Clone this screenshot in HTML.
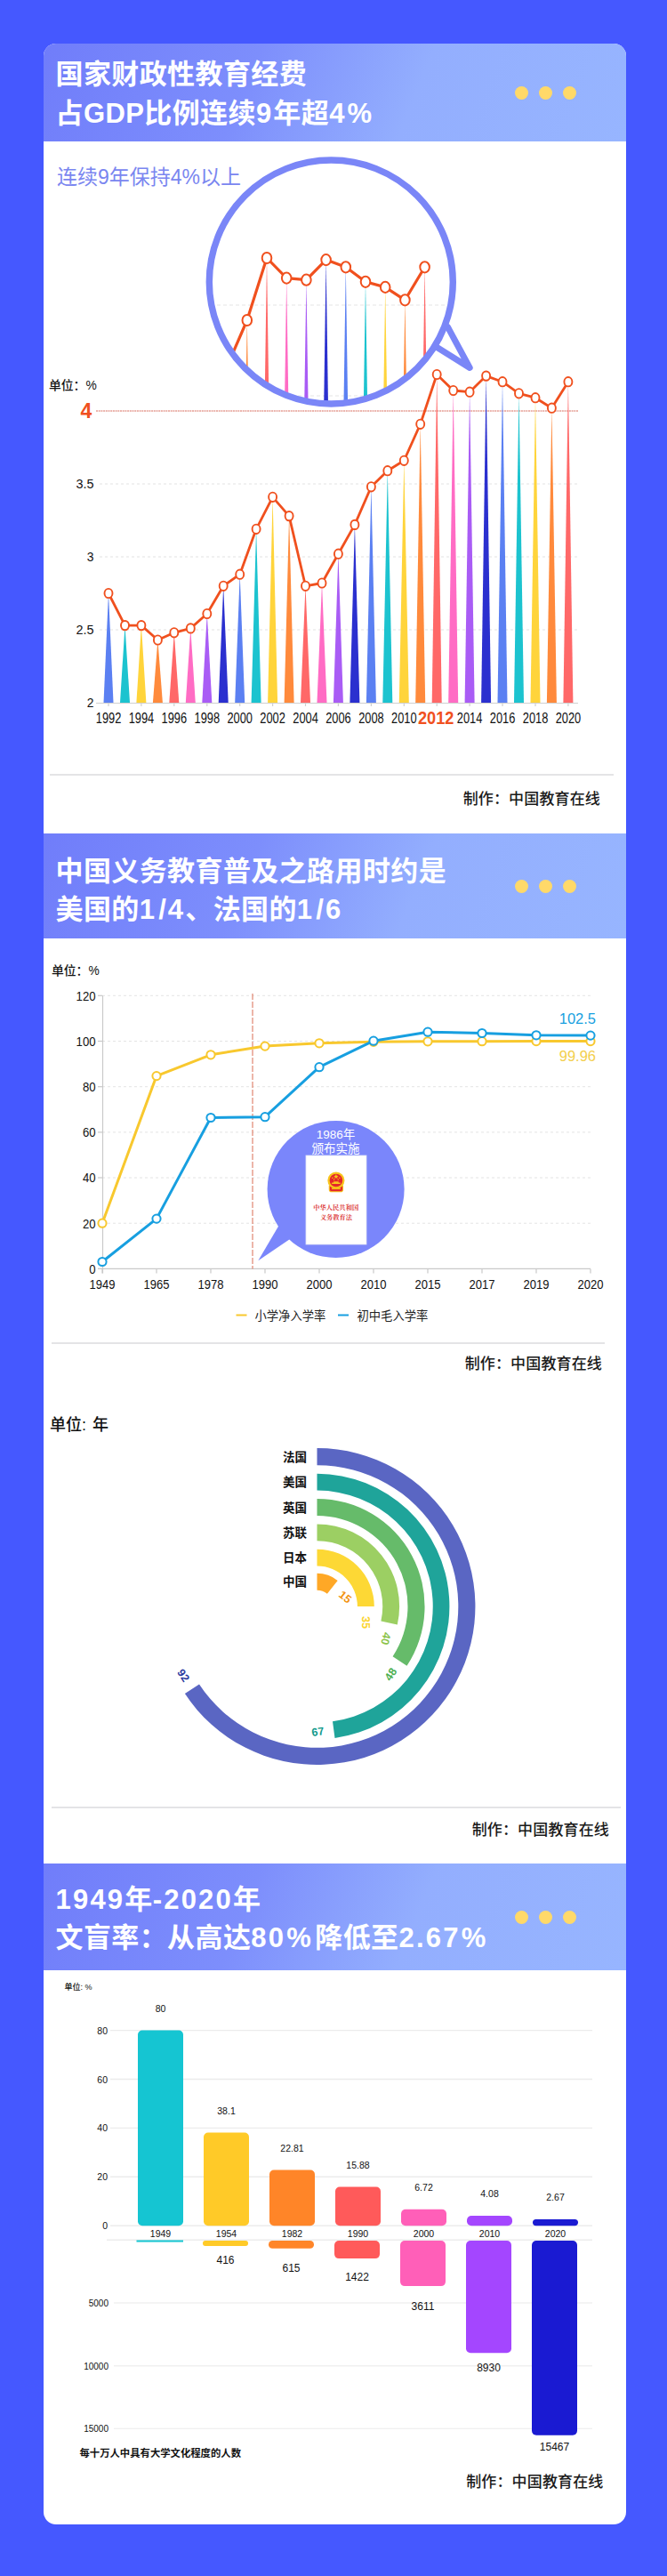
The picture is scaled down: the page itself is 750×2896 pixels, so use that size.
<!DOCTYPE html>
<html lang="zh-CN"><head><meta charset="utf-8"><title>教育数据图</title>
<style>
html,body{margin:0;padding:0}
body{width:750px;height:2896px;background:#4558ff;position:relative;overflow:hidden;font-family:"Liberation Sans","Noto Sans CJK SC",sans-serif;color:#111}
.card{position:absolute;left:48.5px;top:49px;width:655.5px;height:2789px;background:#fff;border-radius:14px;overflow:hidden}
.hd{position:absolute;left:0;width:656px;background:linear-gradient(112deg,#707dfa 0%,#7d8efc 35%,#93aefe 63%,#97b5ff 100%)}
.hd h2{position:absolute;left:14px;margin:0;font-weight:700;color:#fff;font-size:31px;line-height:43.2px;letter-spacing:.4px;white-space:nowrap}
.hd .d{letter-spacing:2.2px}.hd .p{letter-spacing:4.5px;margin-left:1px}.hd .s{letter-spacing:2px;margin-left:2px}
.dots{position:absolute;left:530px;width:70px;height:16px}
.dots i{position:absolute;top:0;width:15px;height:15px;border-radius:50%;background:#ffd969}
.ft{position:absolute;white-space:nowrap;font-size:17px;color:#1a1a1a;letter-spacing:.15px;font-weight:500}
.hr{position:absolute;height:2px;background:#e4e4e6}
svg{position:absolute;left:0;top:0}
svg text{font-family:"Liberation Sans","Noto Sans CJK SC",sans-serif}
.abs{position:absolute;white-space:nowrap}
</style></head><body>

<div class="card">
<div class="hd" style="top:0px;height:110px"><h2 style="top:13.299999999999997px">国家财政性教育经费<br>占GDP比例连续<span class="d">9</span>年超<span class="d">4</span><span class="p">%</span></h2><div class="dots" style="top:48.0px"><i style="left:0"></i><i style="left:27px"></i><i style="left:54px"></i></div></div>
<div class="hd" style="top:888px;height:118px"><h2 style="top:20.5px">中国义务教育普及之路用时约是<br>美国的<span class="d">1</span><span class="s">/</span><span class="d">4</span>、法国的<span class="d">1</span><span class="s">/</span><span class="d">6</span></h2><div class="dots" style="top:52.0px"><i style="left:0"></i><i style="left:27px"></i><i style="left:54px"></i></div></div>
<div class="hd" style="top:2046px;height:120px"><h2 style="top:19px"><span class="d">1949</span>年<span class="d">-2020</span>年<br>文盲率：从高达<span class="d">80</span><span class="p">%</span>降低至<span class="d">2.67</span><span class="p">%</span></h2><div class="dots" style="top:53.0px"><i style="left:0"></i><i style="left:27px"></i><i style="left:54px"></i></div></div>
</div>
<svg width="750" height="2896" viewBox="0 0 750 2896">
<defs><clipPath id="mag"><circle cx="372.3" cy="317" r="137"/></clipPath></defs>
<line x1="112" x2="650" y1="708.0" y2="708.0" stroke="#e2e2e2" stroke-width="1" stroke-dasharray="3 3"/>
<line x1="112" x2="650" y1="626.0" y2="626.0" stroke="#e2e2e2" stroke-width="1" stroke-dasharray="3 3"/>
<line x1="112" x2="650" y1="544.0" y2="544.0" stroke="#e2e2e2" stroke-width="1" stroke-dasharray="3 3"/>
<line x1="108" x2="650" y1="462.0" y2="462.0" stroke="#e59d94" stroke-width="1.3" stroke-dasharray="2 .7"/>
<line x1="108" x2="650" y1="790.5" y2="790.5" stroke="#cfcfcf" stroke-width="1.2"/>
<polygon points="116.5,790.0 127.5,790.0 122.0,667.0" fill="#5b80f2"/>
<polygon points="135.0,790.0 146.0,790.0 140.5,703.1" fill="#1cc3cf"/>
<polygon points="153.4,790.0 164.4,790.0 158.9,703.1" fill="#ffd43b"/>
<polygon points="171.9,790.0 182.9,790.0 177.4,719.5" fill="#ff8a3c"/>
<polygon points="190.3,790.0 201.3,790.0 195.8,711.3" fill="#ff6868"/>
<polygon points="208.8,790.0 219.8,790.0 214.3,706.4" fill="#ff6cc4"/>
<polygon points="227.3,790.0 238.3,790.0 232.8,690.0" fill="#a95cf5"/>
<polygon points="245.7,790.0 256.7,790.0 251.2,658.8" fill="#2b30cf"/>
<polygon points="264.2,790.0 275.2,790.0 269.7,645.7" fill="#5b80f2"/>
<polygon points="282.6,790.0 293.6,790.0 288.1,594.8" fill="#1cc3cf"/>
<polygon points="301.1,790.0 312.1,790.0 306.6,558.8" fill="#ffd43b"/>
<polygon points="319.6,790.0 330.6,790.0 325.1,580.1" fill="#ff8a3c"/>
<polygon points="338.0,790.0 349.0,790.0 343.5,658.8" fill="#ff6868"/>
<polygon points="356.5,790.0 367.5,790.0 362.0,655.5" fill="#ff6cc4"/>
<polygon points="374.9,790.0 385.9,790.0 380.4,622.7" fill="#a95cf5"/>
<polygon points="393.4,790.0 404.4,790.0 398.9,589.9" fill="#2b30cf"/>
<polygon points="411.9,790.0 422.9,790.0 417.4,547.3" fill="#5b80f2"/>
<polygon points="430.3,790.0 441.3,790.0 435.8,529.2" fill="#1cc3cf"/>
<polygon points="448.8,790.0 459.8,790.0 454.3,517.8" fill="#ffd43b"/>
<polygon points="467.2,790.0 478.2,790.0 472.7,476.8" fill="#ff8a3c"/>
<polygon points="485.7,790.0 496.7,790.0 491.2,421.0" fill="#ff6868"/>
<polygon points="504.2,790.0 515.2,790.0 509.7,439.0" fill="#ff6cc4"/>
<polygon points="522.6,790.0 533.6,790.0 528.1,440.7" fill="#a95cf5"/>
<polygon points="541.1,790.0 552.1,790.0 546.6,422.6" fill="#2b30cf"/>
<polygon points="559.5,790.0 570.5,790.0 565.0,429.2" fill="#5b80f2"/>
<polygon points="578.0,790.0 589.0,790.0 583.5,442.3" fill="#1cc3cf"/>
<polygon points="596.5,790.0 607.5,790.0 602.0,447.2" fill="#ffd43b"/>
<polygon points="614.9,790.0 625.9,790.0 620.4,458.7" fill="#ff8a3c"/>
<polygon points="633.4,790.0 644.4,790.0 638.9,429.2" fill="#ff6868"/>
<polyline points="122.0,667.0 140.5,703.1 158.9,703.1 177.4,719.5 195.8,711.3 214.3,706.4 232.8,690.0 251.2,658.8 269.7,645.7 288.1,594.8 306.6,558.8 325.1,580.1 343.5,658.8 362.0,655.5 380.4,622.7 398.9,589.9 417.4,547.3 435.8,529.2 454.3,517.8 472.7,476.8 491.2,421.0 509.7,439.0 528.1,440.7 546.6,422.6 565.0,429.2 583.5,442.3 602.0,447.2 620.4,458.7 638.9,429.2" fill="none" stroke="#f0501e" stroke-width="2.8" stroke-linejoin="round"/>
<ellipse cx="122.0" cy="667.0" rx="4.5" ry="5.17" fill="#fff" stroke="#f0501e" stroke-width="1.9"/>
<ellipse cx="140.5" cy="703.1" rx="4.5" ry="5.17" fill="#fff" stroke="#f0501e" stroke-width="1.9"/>
<ellipse cx="158.9" cy="703.1" rx="4.5" ry="5.17" fill="#fff" stroke="#f0501e" stroke-width="1.9"/>
<ellipse cx="177.4" cy="719.5" rx="4.5" ry="5.17" fill="#fff" stroke="#f0501e" stroke-width="1.9"/>
<ellipse cx="195.8" cy="711.3" rx="4.5" ry="5.17" fill="#fff" stroke="#f0501e" stroke-width="1.9"/>
<ellipse cx="214.3" cy="706.4" rx="4.5" ry="5.17" fill="#fff" stroke="#f0501e" stroke-width="1.9"/>
<ellipse cx="232.8" cy="690.0" rx="4.5" ry="5.17" fill="#fff" stroke="#f0501e" stroke-width="1.9"/>
<ellipse cx="251.2" cy="658.8" rx="4.5" ry="5.17" fill="#fff" stroke="#f0501e" stroke-width="1.9"/>
<ellipse cx="269.7" cy="645.7" rx="4.5" ry="5.17" fill="#fff" stroke="#f0501e" stroke-width="1.9"/>
<ellipse cx="288.1" cy="594.8" rx="4.5" ry="5.17" fill="#fff" stroke="#f0501e" stroke-width="1.9"/>
<ellipse cx="306.6" cy="558.8" rx="4.5" ry="5.17" fill="#fff" stroke="#f0501e" stroke-width="1.9"/>
<ellipse cx="325.1" cy="580.1" rx="4.5" ry="5.17" fill="#fff" stroke="#f0501e" stroke-width="1.9"/>
<ellipse cx="343.5" cy="658.8" rx="4.5" ry="5.17" fill="#fff" stroke="#f0501e" stroke-width="1.9"/>
<ellipse cx="362.0" cy="655.5" rx="4.5" ry="5.17" fill="#fff" stroke="#f0501e" stroke-width="1.9"/>
<ellipse cx="380.4" cy="622.7" rx="4.5" ry="5.17" fill="#fff" stroke="#f0501e" stroke-width="1.9"/>
<ellipse cx="398.9" cy="589.9" rx="4.5" ry="5.17" fill="#fff" stroke="#f0501e" stroke-width="1.9"/>
<ellipse cx="417.4" cy="547.3" rx="4.5" ry="5.17" fill="#fff" stroke="#f0501e" stroke-width="1.9"/>
<ellipse cx="435.8" cy="529.2" rx="4.5" ry="5.17" fill="#fff" stroke="#f0501e" stroke-width="1.9"/>
<ellipse cx="454.3" cy="517.8" rx="4.5" ry="5.17" fill="#fff" stroke="#f0501e" stroke-width="1.9"/>
<ellipse cx="472.7" cy="476.8" rx="4.5" ry="5.17" fill="#fff" stroke="#f0501e" stroke-width="1.9"/>
<ellipse cx="491.2" cy="421.0" rx="4.5" ry="5.17" fill="#fff" stroke="#f0501e" stroke-width="1.9"/>
<ellipse cx="509.7" cy="439.0" rx="4.5" ry="5.17" fill="#fff" stroke="#f0501e" stroke-width="1.9"/>
<ellipse cx="528.1" cy="440.7" rx="4.5" ry="5.17" fill="#fff" stroke="#f0501e" stroke-width="1.9"/>
<ellipse cx="546.6" cy="422.6" rx="4.5" ry="5.17" fill="#fff" stroke="#f0501e" stroke-width="1.9"/>
<ellipse cx="565.0" cy="429.2" rx="4.5" ry="5.17" fill="#fff" stroke="#f0501e" stroke-width="1.9"/>
<ellipse cx="583.5" cy="442.3" rx="4.5" ry="5.17" fill="#fff" stroke="#f0501e" stroke-width="1.9"/>
<ellipse cx="602.0" cy="447.2" rx="4.5" ry="5.17" fill="#fff" stroke="#f0501e" stroke-width="1.9"/>
<ellipse cx="620.4" cy="458.7" rx="4.5" ry="5.17" fill="#fff" stroke="#f0501e" stroke-width="1.9"/>
<ellipse cx="638.9" cy="429.2" rx="4.5" ry="5.17" fill="#fff" stroke="#f0501e" stroke-width="1.9"/>
<text x="105.5" y="549.4" font-size="15.2" text-anchor="end" textLength="20" lengthAdjust="spacingAndGlyphs" fill="#111">3.5</text>
<text x="105.5" y="631.4" font-size="15.2" text-anchor="end" textLength="7.7" lengthAdjust="spacingAndGlyphs" fill="#111">3</text>
<text x="105.5" y="713.4" font-size="15.2" text-anchor="end" textLength="20" lengthAdjust="spacingAndGlyphs" fill="#111">2.5</text>
<text x="105.5" y="795.4" font-size="15.2" text-anchor="end" textLength="7.7" lengthAdjust="spacingAndGlyphs" fill="#111">2</text>
<text x="97" y="470.0" font-size="23" font-weight="700" text-anchor="middle" fill="#f0501e">4</text>
<text x="55" y="438" font-size="13.8" font-weight="500" fill="#111">单位：%</text>
<text x="122.0" y="813" font-size="16" text-anchor="middle" textLength="28.5" lengthAdjust="spacingAndGlyphs" fill="#111">1992</text>
<line x1="122.0" x2="122.0" y1="790.0" y2="794.0" stroke="#cfcfcf" stroke-width="1.2"/>
<text x="158.9" y="813" font-size="16" text-anchor="middle" textLength="28.5" lengthAdjust="spacingAndGlyphs" fill="#111">1994</text>
<line x1="158.9" x2="158.9" y1="790.0" y2="794.0" stroke="#cfcfcf" stroke-width="1.2"/>
<text x="195.8" y="813" font-size="16" text-anchor="middle" textLength="28.5" lengthAdjust="spacingAndGlyphs" fill="#111">1996</text>
<line x1="195.8" x2="195.8" y1="790.0" y2="794.0" stroke="#cfcfcf" stroke-width="1.2"/>
<text x="232.8" y="813" font-size="16" text-anchor="middle" textLength="28.5" lengthAdjust="spacingAndGlyphs" fill="#111">1998</text>
<line x1="232.8" x2="232.8" y1="790.0" y2="794.0" stroke="#cfcfcf" stroke-width="1.2"/>
<text x="269.7" y="813" font-size="16" text-anchor="middle" textLength="28.5" lengthAdjust="spacingAndGlyphs" fill="#111">2000</text>
<line x1="269.7" x2="269.7" y1="790.0" y2="794.0" stroke="#cfcfcf" stroke-width="1.2"/>
<text x="306.6" y="813" font-size="16" text-anchor="middle" textLength="28.5" lengthAdjust="spacingAndGlyphs" fill="#111">2002</text>
<line x1="306.6" x2="306.6" y1="790.0" y2="794.0" stroke="#cfcfcf" stroke-width="1.2"/>
<text x="343.5" y="813" font-size="16" text-anchor="middle" textLength="28.5" lengthAdjust="spacingAndGlyphs" fill="#111">2004</text>
<line x1="343.5" x2="343.5" y1="790.0" y2="794.0" stroke="#cfcfcf" stroke-width="1.2"/>
<text x="380.4" y="813" font-size="16" text-anchor="middle" textLength="28.5" lengthAdjust="spacingAndGlyphs" fill="#111">2006</text>
<line x1="380.4" x2="380.4" y1="790.0" y2="794.0" stroke="#cfcfcf" stroke-width="1.2"/>
<text x="417.4" y="813" font-size="16" text-anchor="middle" textLength="28.5" lengthAdjust="spacingAndGlyphs" fill="#111">2008</text>
<line x1="417.4" x2="417.4" y1="790.0" y2="794.0" stroke="#cfcfcf" stroke-width="1.2"/>
<text x="454.3" y="813" font-size="16" text-anchor="middle" textLength="28.5" lengthAdjust="spacingAndGlyphs" fill="#111">2010</text>
<line x1="454.3" x2="454.3" y1="790.0" y2="794.0" stroke="#cfcfcf" stroke-width="1.2"/>
<text x="490.2" y="814" font-size="20" font-weight="700" text-anchor="middle" textLength="40.5" lengthAdjust="spacingAndGlyphs" fill="#f0501e">2012</text>
<line x1="491.2" x2="491.2" y1="790.0" y2="794.0" stroke="#cfcfcf" stroke-width="1.2"/>
<text x="528.1" y="813" font-size="16" text-anchor="middle" textLength="28.5" lengthAdjust="spacingAndGlyphs" fill="#111">2014</text>
<line x1="528.1" x2="528.1" y1="790.0" y2="794.0" stroke="#cfcfcf" stroke-width="1.2"/>
<text x="565.0" y="813" font-size="16" text-anchor="middle" textLength="28.5" lengthAdjust="spacingAndGlyphs" fill="#111">2016</text>
<line x1="565.0" x2="565.0" y1="790.0" y2="794.0" stroke="#cfcfcf" stroke-width="1.2"/>
<text x="602.0" y="813" font-size="16" text-anchor="middle" textLength="28.5" lengthAdjust="spacingAndGlyphs" fill="#111">2018</text>
<line x1="602.0" x2="602.0" y1="790.0" y2="794.0" stroke="#cfcfcf" stroke-width="1.2"/>
<text x="638.9" y="813" font-size="16" text-anchor="middle" textLength="28.5" lengthAdjust="spacingAndGlyphs" fill="#111">2020</text>
<line x1="638.9" x2="638.9" y1="790.0" y2="794.0" stroke="#cfcfcf" stroke-width="1.2"/>
<path d="M503.5 367.7 L528.2 413.5 L492.2 391" fill="#fff" stroke="#7a86f7" stroke-width="7" stroke-linejoin="round" stroke-linecap="round"/>
<circle cx="372.3" cy="317" r="138" fill="#fff"/>
<g clip-path="url(#mag)">
<line x1="230" x2="520" y1="343" y2="343" stroke="#e6e6e6" stroke-width="1.2" stroke-dasharray="4 3"/>
<line x1="230" x2="520" y1="445" y2="445" stroke="#e6e6e6" stroke-width="1.2" stroke-dasharray="4 3"/>
<polygon points="-150.8,753.1 -137.2,753.1 -144.0,598.7" fill="#5b80f2"/>
<polygon points="-128.6,753.1 -115.0,753.1 -121.8,644.0" fill="#1cc3cf"/>
<polygon points="-106.4,753.1 -92.8,753.1 -99.6,644.0" fill="#ffd43b"/>
<polygon points="-84.2,753.1 -70.6,753.1 -77.4,664.6" fill="#ff8a3c"/>
<polygon points="-62.0,753.1 -48.4,753.1 -55.2,654.3" fill="#ff6868"/>
<polygon points="-39.8,753.1 -26.2,753.1 -33.0,648.1" fill="#ff6cc4"/>
<polygon points="-17.6,753.1 -4.0,753.1 -10.8,627.5" fill="#a95cf5"/>
<polygon points="4.6,753.1 18.2,753.1 11.4,588.4" fill="#2b30cf"/>
<polygon points="26.8,753.1 40.4,753.1 33.6,572.0" fill="#5b80f2"/>
<polygon points="49.0,753.1 62.6,753.1 55.8,508.2" fill="#1cc3cf"/>
<polygon points="71.2,753.1 84.8,753.1 78.0,462.9" fill="#ffd43b"/>
<polygon points="93.4,753.1 107.0,753.1 100.2,489.6" fill="#ff8a3c"/>
<polygon points="115.6,753.1 129.2,753.1 122.4,588.4" fill="#ff6868"/>
<polygon points="137.8,753.1 151.4,753.1 144.6,584.3" fill="#ff6cc4"/>
<polygon points="160.0,753.1 173.6,753.1 166.8,543.2" fill="#a95cf5"/>
<polygon points="182.2,753.1 195.8,753.1 189.0,502.0" fill="#2b30cf"/>
<polygon points="204.4,753.1 218.0,753.1 211.2,448.5" fill="#5b80f2"/>
<polygon points="226.6,753.1 240.2,753.1 233.4,425.8" fill="#1cc3cf"/>
<polygon points="248.8,753.1 262.4,753.1 255.6,411.4" fill="#ffd43b"/>
<polygon points="271.0,753.1 284.6,753.1 277.8,360.0" fill="#ff8a3c"/>
<polygon points="293.2,753.1 306.8,753.1 300.0,290.0" fill="#ff6868"/>
<polygon points="315.4,753.1 329.0,753.1 322.2,312.6" fill="#ff6cc4"/>
<polygon points="337.6,753.1 351.2,753.1 344.4,314.7" fill="#a95cf5"/>
<polygon points="359.8,753.1 373.4,753.1 366.6,292.1" fill="#2b30cf"/>
<polygon points="382.0,753.1 395.6,753.1 388.8,300.3" fill="#5b80f2"/>
<polygon points="404.2,753.1 417.8,753.1 411.0,316.8" fill="#1cc3cf"/>
<polygon points="426.4,753.1 440.0,753.1 433.2,322.9" fill="#ffd43b"/>
<polygon points="448.6,753.1 462.2,753.1 455.4,337.3" fill="#ff8a3c"/>
<polygon points="470.8,753.1 484.4,753.1 477.6,300.3" fill="#ff6868"/>
<polyline points="-144.0,598.7 -121.8,644.0 -99.6,644.0 -77.4,664.6 -55.2,654.3 -33.0,648.1 -10.8,627.5 11.4,588.4 33.6,572.0 55.8,508.2 78.0,462.9 100.2,489.6 122.4,588.4 144.6,584.3 166.8,543.2 189.0,502.0 211.2,448.5 233.4,425.8 255.6,411.4 277.8,360.0 300.0,290.0 322.2,312.6 344.4,314.7 366.6,292.1 388.8,300.3 411.0,316.8 433.2,322.9 455.4,337.3 477.6,300.3" fill="none" stroke="#f0501e" stroke-width="3.2" stroke-linejoin="round"/>
<ellipse cx="-144.0" cy="598.7" rx="5.3" ry="6.09" fill="#fff" stroke="#f0501e" stroke-width="2"/>
<ellipse cx="-121.8" cy="644.0" rx="5.3" ry="6.09" fill="#fff" stroke="#f0501e" stroke-width="2"/>
<ellipse cx="-99.6" cy="644.0" rx="5.3" ry="6.09" fill="#fff" stroke="#f0501e" stroke-width="2"/>
<ellipse cx="-77.4" cy="664.6" rx="5.3" ry="6.09" fill="#fff" stroke="#f0501e" stroke-width="2"/>
<ellipse cx="-55.2" cy="654.3" rx="5.3" ry="6.09" fill="#fff" stroke="#f0501e" stroke-width="2"/>
<ellipse cx="-33.0" cy="648.1" rx="5.3" ry="6.09" fill="#fff" stroke="#f0501e" stroke-width="2"/>
<ellipse cx="-10.8" cy="627.5" rx="5.3" ry="6.09" fill="#fff" stroke="#f0501e" stroke-width="2"/>
<ellipse cx="11.4" cy="588.4" rx="5.3" ry="6.09" fill="#fff" stroke="#f0501e" stroke-width="2"/>
<ellipse cx="33.6" cy="572.0" rx="5.3" ry="6.09" fill="#fff" stroke="#f0501e" stroke-width="2"/>
<ellipse cx="55.8" cy="508.2" rx="5.3" ry="6.09" fill="#fff" stroke="#f0501e" stroke-width="2"/>
<ellipse cx="78.0" cy="462.9" rx="5.3" ry="6.09" fill="#fff" stroke="#f0501e" stroke-width="2"/>
<ellipse cx="100.2" cy="489.6" rx="5.3" ry="6.09" fill="#fff" stroke="#f0501e" stroke-width="2"/>
<ellipse cx="122.4" cy="588.4" rx="5.3" ry="6.09" fill="#fff" stroke="#f0501e" stroke-width="2"/>
<ellipse cx="144.6" cy="584.3" rx="5.3" ry="6.09" fill="#fff" stroke="#f0501e" stroke-width="2"/>
<ellipse cx="166.8" cy="543.2" rx="5.3" ry="6.09" fill="#fff" stroke="#f0501e" stroke-width="2"/>
<ellipse cx="189.0" cy="502.0" rx="5.3" ry="6.09" fill="#fff" stroke="#f0501e" stroke-width="2"/>
<ellipse cx="211.2" cy="448.5" rx="5.3" ry="6.09" fill="#fff" stroke="#f0501e" stroke-width="2"/>
<ellipse cx="233.4" cy="425.8" rx="5.3" ry="6.09" fill="#fff" stroke="#f0501e" stroke-width="2"/>
<ellipse cx="255.6" cy="411.4" rx="5.3" ry="6.09" fill="#fff" stroke="#f0501e" stroke-width="2"/>
<ellipse cx="277.8" cy="360.0" rx="5.3" ry="6.09" fill="#fff" stroke="#f0501e" stroke-width="2"/>
<ellipse cx="300.0" cy="290.0" rx="5.3" ry="6.09" fill="#fff" stroke="#f0501e" stroke-width="2"/>
<ellipse cx="322.2" cy="312.6" rx="5.3" ry="6.09" fill="#fff" stroke="#f0501e" stroke-width="2"/>
<ellipse cx="344.4" cy="314.7" rx="5.3" ry="6.09" fill="#fff" stroke="#f0501e" stroke-width="2"/>
<ellipse cx="366.6" cy="292.1" rx="5.3" ry="6.09" fill="#fff" stroke="#f0501e" stroke-width="2"/>
<ellipse cx="388.8" cy="300.3" rx="5.3" ry="6.09" fill="#fff" stroke="#f0501e" stroke-width="2"/>
<ellipse cx="411.0" cy="316.8" rx="5.3" ry="6.09" fill="#fff" stroke="#f0501e" stroke-width="2"/>
<ellipse cx="433.2" cy="322.9" rx="5.3" ry="6.09" fill="#fff" stroke="#f0501e" stroke-width="2"/>
<ellipse cx="455.4" cy="337.3" rx="5.3" ry="6.09" fill="#fff" stroke="#f0501e" stroke-width="2"/>
<ellipse cx="477.6" cy="300.3" rx="5.3" ry="6.09" fill="#fff" stroke="#f0501e" stroke-width="2"/>
</g>
<circle cx="372.3" cy="317" r="137" fill="none" stroke="#7a86f7" stroke-width="7.4"/>
<text x="64" y="206.5" font-size="23" fill="#7a86f0">连续9年保持4%以上</text>
<line x1="115" x2="664" y1="1375.2" y2="1375.2" stroke="#e4e4e4" stroke-width="1" stroke-dasharray="3 3"/>
<line x1="115" x2="664" y1="1324.0" y2="1324.0" stroke="#e4e4e4" stroke-width="1" stroke-dasharray="3 3"/>
<line x1="115" x2="664" y1="1272.9" y2="1272.9" stroke="#e4e4e4" stroke-width="1" stroke-dasharray="3 3"/>
<line x1="115" x2="664" y1="1221.7" y2="1221.7" stroke="#e4e4e4" stroke-width="1" stroke-dasharray="3 3"/>
<line x1="115" x2="664" y1="1170.5" y2="1170.5" stroke="#e4e4e4" stroke-width="1" stroke-dasharray="3 3"/>
<line x1="115" x2="664" y1="1119.3" y2="1119.3" stroke="#e4e4e4" stroke-width="1" stroke-dasharray="3 3"/>
<line x1="115.5" x2="115.5" y1="1119.3" y2="1431.4" stroke="#c9c9c9" stroke-width="1.2"/>
<line x1="110" x2="664" y1="1426.4" y2="1426.4" stroke="#c9c9c9" stroke-width="1.2"/>
<line x1="115" x2="115" y1="1426.4" y2="1431.4" stroke="#c9c9c9" stroke-width="1.2"/>
<text x="115" y="1448.5" font-size="14.5" text-anchor="middle" textLength="29" lengthAdjust="spacingAndGlyphs" fill="#111">1949</text>
<line x1="176" x2="176" y1="1426.4" y2="1431.4" stroke="#c9c9c9" stroke-width="1.2"/>
<text x="176" y="1448.5" font-size="14.5" text-anchor="middle" textLength="29" lengthAdjust="spacingAndGlyphs" fill="#111">1965</text>
<line x1="237" x2="237" y1="1426.4" y2="1431.4" stroke="#c9c9c9" stroke-width="1.2"/>
<text x="237" y="1448.5" font-size="14.5" text-anchor="middle" textLength="29" lengthAdjust="spacingAndGlyphs" fill="#111">1978</text>
<line x1="298" x2="298" y1="1426.4" y2="1431.4" stroke="#c9c9c9" stroke-width="1.2"/>
<text x="298" y="1448.5" font-size="14.5" text-anchor="middle" textLength="29" lengthAdjust="spacingAndGlyphs" fill="#111">1990</text>
<line x1="359" x2="359" y1="1426.4" y2="1431.4" stroke="#c9c9c9" stroke-width="1.2"/>
<text x="359" y="1448.5" font-size="14.5" text-anchor="middle" textLength="29" lengthAdjust="spacingAndGlyphs" fill="#111">2000</text>
<line x1="420" x2="420" y1="1426.4" y2="1431.4" stroke="#c9c9c9" stroke-width="1.2"/>
<text x="420" y="1448.5" font-size="14.5" text-anchor="middle" textLength="29" lengthAdjust="spacingAndGlyphs" fill="#111">2010</text>
<line x1="481" x2="481" y1="1426.4" y2="1431.4" stroke="#c9c9c9" stroke-width="1.2"/>
<text x="481" y="1448.5" font-size="14.5" text-anchor="middle" textLength="29" lengthAdjust="spacingAndGlyphs" fill="#111">2015</text>
<line x1="542" x2="542" y1="1426.4" y2="1431.4" stroke="#c9c9c9" stroke-width="1.2"/>
<text x="542" y="1448.5" font-size="14.5" text-anchor="middle" textLength="29" lengthAdjust="spacingAndGlyphs" fill="#111">2017</text>
<line x1="603" x2="603" y1="1426.4" y2="1431.4" stroke="#c9c9c9" stroke-width="1.2"/>
<text x="603" y="1448.5" font-size="14.5" text-anchor="middle" textLength="29" lengthAdjust="spacingAndGlyphs" fill="#111">2019</text>
<line x1="664" x2="664" y1="1426.4" y2="1431.4" stroke="#c9c9c9" stroke-width="1.2"/>
<text x="664" y="1448.5" font-size="14.5" text-anchor="middle" textLength="29" lengthAdjust="spacingAndGlyphs" fill="#111">2020</text>
<line x1="110" x2="115" y1="1426.4" y2="1426.4" stroke="#c9c9c9" stroke-width="1.2"/>
<text x="107.5" y="1431.7" font-size="14.5" text-anchor="end" textLength="7.3" lengthAdjust="spacingAndGlyphs" fill="#111">0</text>
<line x1="110" x2="115" y1="1375.2" y2="1375.2" stroke="#c9c9c9" stroke-width="1.2"/>
<text x="107.5" y="1380.5" font-size="14.5" text-anchor="end" textLength="14.6" lengthAdjust="spacingAndGlyphs" fill="#111">20</text>
<line x1="110" x2="115" y1="1324.0" y2="1324.0" stroke="#c9c9c9" stroke-width="1.2"/>
<text x="107.5" y="1329.3" font-size="14.5" text-anchor="end" textLength="14.6" lengthAdjust="spacingAndGlyphs" fill="#111">40</text>
<line x1="110" x2="115" y1="1272.9" y2="1272.9" stroke="#c9c9c9" stroke-width="1.2"/>
<text x="107.5" y="1278.2" font-size="14.5" text-anchor="end" textLength="14.6" lengthAdjust="spacingAndGlyphs" fill="#111">60</text>
<line x1="110" x2="115" y1="1221.7" y2="1221.7" stroke="#c9c9c9" stroke-width="1.2"/>
<text x="107.5" y="1227.0" font-size="14.5" text-anchor="end" textLength="14.6" lengthAdjust="spacingAndGlyphs" fill="#111">80</text>
<line x1="110" x2="115" y1="1170.5" y2="1170.5" stroke="#c9c9c9" stroke-width="1.2"/>
<text x="107.5" y="1175.8" font-size="14.5" text-anchor="end" textLength="21.9" lengthAdjust="spacingAndGlyphs" fill="#111">100</text>
<line x1="110" x2="115" y1="1119.3" y2="1119.3" stroke="#c9c9c9" stroke-width="1.2"/>
<text x="107.5" y="1124.6" font-size="14.5" text-anchor="end" textLength="21.9" lengthAdjust="spacingAndGlyphs" fill="#111">120</text>
<text x="58" y="1096" font-size="13.8" font-weight="500" fill="#111">单位：%</text>
<line x1="284" x2="284" y1="1117" y2="1426.4" stroke="#e38f7c" stroke-width="1.3" stroke-dasharray="7 2"/>
<polyline points="115,1375.2 176,1209.6 237,1185.8 298,1176.1 359,1172.8 420,1171.3 481,1170.8 542,1170.7 603,1170.6 664,1170.6" fill="none" stroke="#f8c82e" stroke-width="3" stroke-linejoin="round"/>
<circle cx="115" cy="1375.2" r="4.6" fill="#fff" stroke="#f8c82e" stroke-width="2"/>
<circle cx="176" cy="1209.6" r="4.6" fill="#fff" stroke="#f8c82e" stroke-width="2"/>
<circle cx="237" cy="1185.8" r="4.6" fill="#fff" stroke="#f8c82e" stroke-width="2"/>
<circle cx="298" cy="1176.1" r="4.6" fill="#fff" stroke="#f8c82e" stroke-width="2"/>
<circle cx="359" cy="1172.8" r="4.6" fill="#fff" stroke="#f8c82e" stroke-width="2"/>
<circle cx="420" cy="1171.3" r="4.6" fill="#fff" stroke="#f8c82e" stroke-width="2"/>
<circle cx="481" cy="1170.8" r="4.6" fill="#fff" stroke="#f8c82e" stroke-width="2"/>
<circle cx="542" cy="1170.7" r="4.6" fill="#fff" stroke="#f8c82e" stroke-width="2"/>
<circle cx="603" cy="1170.6" r="4.6" fill="#fff" stroke="#f8c82e" stroke-width="2"/>
<circle cx="664" cy="1170.6" r="4.6" fill="#fff" stroke="#f8c82e" stroke-width="2"/>
<polyline points="115,1418.5 176,1370.1 237,1256.5 298,1255.7 359,1199.7 420,1170.2 481,1160.2 542,1161.5 603,1163.8 664,1164.1" fill="none" stroke="#179fe0" stroke-width="3" stroke-linejoin="round"/>
<circle cx="115" cy="1418.5" r="4.6" fill="#fff" stroke="#179fe0" stroke-width="2"/>
<circle cx="176" cy="1370.1" r="4.6" fill="#fff" stroke="#179fe0" stroke-width="2"/>
<circle cx="237" cy="1256.5" r="4.6" fill="#fff" stroke="#179fe0" stroke-width="2"/>
<circle cx="298" cy="1255.7" r="4.6" fill="#fff" stroke="#179fe0" stroke-width="2"/>
<circle cx="359" cy="1199.7" r="4.6" fill="#fff" stroke="#179fe0" stroke-width="2"/>
<circle cx="420" cy="1170.2" r="4.6" fill="#fff" stroke="#179fe0" stroke-width="2"/>
<circle cx="481" cy="1160.2" r="4.6" fill="#fff" stroke="#179fe0" stroke-width="2"/>
<circle cx="542" cy="1161.5" r="4.6" fill="#fff" stroke="#179fe0" stroke-width="2"/>
<circle cx="603" cy="1163.8" r="4.6" fill="#fff" stroke="#179fe0" stroke-width="2"/>
<circle cx="664" cy="1164.1" r="4.6" fill="#fff" stroke="#179fe0" stroke-width="2"/>
<text x="670" y="1151" font-size="16.5" text-anchor="end" fill="#179fe0">102.5</text>
<text x="670" y="1193" font-size="16.5" text-anchor="end" fill="#f3cf4e">99.96</text>
<path d="M314 1377 L290.3 1417.2 L326 1393 Z" fill="#7a86fb"/>
<circle cx="377.6" cy="1337" r="77" fill="#7a86fb"/>
<text x="377.6" y="1280" font-size="13.5" text-anchor="middle" fill="#fff">1986年</text>
<text x="377.6" y="1296" font-size="13.5" text-anchor="middle" fill="#fff">颁布实施</text>
<rect x="344" y="1299" width="68" height="100" fill="#fff" stroke="#dfe2f5" stroke-width=".8"/>
<g transform="translate(377.9,1326.5)"><path d="M-7.6 6.5 h15.2 v4.2 q0 2.6 -2.6 2.6 h-10 q-2.6 0 -2.6 -2.6z" fill="#e4262b" stroke="#f5bd1a" stroke-width="1.1"/><circle cx="0" cy="0.5" r="8.4" fill="#e4262b" stroke="#f8c51c" stroke-width="2.3"/><path d="M0 -6.6 l.8 1.9 2 .1 -1.6 1.3 .6 2 -1.8 -1.1 -1.8 1.1 .6 -2 -1.6 -1.3 2 -.1z" fill="#f8c51c"/><circle cx="-4" cy="-2.2" r=".8" fill="#f8c51c"/><circle cx="4" cy="-2.2" r=".8" fill="#f8c51c"/><circle cx="-2.3" cy="-.2" r=".7" fill="#f8c51c"/><circle cx="2.3" cy="-.2" r=".7" fill="#f8c51c"/><path d="M-4.8 4.6 h9.6 v-1.6 h-2 v-1.2 h-5.6 v1.2 h-2z" fill="#f8c51c"/><rect x="-5" y="9" width="10" height="1.6" fill="#f5bd1a"/></g>
<text x="377.7" y="1360.3" font-size="7.3" font-weight="700" text-anchor="middle" fill="#dc3a3a" style="font-family:'Liberation Serif','Noto Serif CJK SC',serif">中华人民共和国</text>
<text x="377.9" y="1371.4" font-size="7.2" font-weight="700" text-anchor="middle" fill="#dc3a3a" style="font-family:'Liberation Serif','Noto Serif CJK SC',serif">义务教育法</text>
<line x1="265.5" x2="277.5" y1="1478.5" y2="1478.5" stroke="#f8c82e" stroke-width="2"/>
<text x="286.5" y="1483.5" font-size="13.3" fill="#222">小学净入学率</text>
<line x1="380" x2="392" y1="1478.5" y2="1478.5" stroke="#179fe0" stroke-width="2"/>
<text x="401.5" y="1483.5" font-size="13.3" fill="#222">初中毛入学率</text>
<path d="M356.5 1628.0 A178 178 0 1 1 207.9 1904.1 L224.0 1893.5 A158.8 158.8 0 1 0 356.5 1647.2Z" fill="#5a66c3"/>
<text x="345" y="1642.6" font-size="13.5" font-weight="700" text-anchor="end" fill="#111">法国</text>
<text transform="translate(206.0,1883.7) rotate(56.6)" font-size="12.5" font-weight="700" text-anchor="middle" dominant-baseline="central" fill="#2b3aa0">92</text>
<path d="M356.5 1656.7 A149.3 149.3 0 0 1 376.5 1953.9 L374.0 1935.2 A130.4 130.4 0 0 0 356.5 1675.6Z" fill="#1fa49a"/>
<text x="345" y="1671.2" font-size="13.5" font-weight="700" text-anchor="end" fill="#111">美国</text>
<text transform="translate(357.4,1947.0) rotate(-7.7)" font-size="12.5" font-weight="700" text-anchor="middle" dominant-baseline="central" fill="#129a8c">67</text>
<path d="M356.5 1685.0 A121 121 0 0 1 457.5 1872.7 L441.6 1862.2 A102 102 0 0 0 356.5 1704.0Z" fill="#66bb6a"/>
<text x="345" y="1699.5" font-size="13.5" font-weight="700" text-anchor="end" fill="#111">英国</text>
<text transform="translate(439.6,1882.4) rotate(-56.6)" font-size="12.5" font-weight="700" text-anchor="middle" dominant-baseline="central" fill="#4caf50">48</text>
<path d="M356.5 1713.4 A92.6 92.6 0 0 1 446.8 1826.6 L428.4 1822.4 A73.8 73.8 0 0 0 356.5 1732.2Z" fill="#9ccf63"/>
<text x="345" y="1727.8" font-size="13.5" font-weight="700" text-anchor="end" fill="#111">苏联</text>
<text transform="translate(433.6,1842.1) rotate(102.9)" font-size="12.5" font-weight="700" text-anchor="middle" dominant-baseline="central" fill="#8bc34a">40</text>
<path d="M356.5 1741.7 A64.3 64.3 0 0 1 420.8 1806.0 L401.9 1806.0 A45.4 45.4 0 0 0 356.5 1760.6Z" fill="#fdd835"/>
<text x="345" y="1756.2" font-size="13.5" font-weight="700" text-anchor="end" fill="#111">日本</text>
<text transform="translate(411.4,1824.0) rotate(90.0)" font-size="12.5" font-weight="700" text-anchor="middle" dominant-baseline="central" fill="#fbd42f">35</text>
<path d="M356.5 1768.8 A37.2 37.2 0 0 1 379.7 1776.9 L367.9 1791.7 A18.3 18.3 0 0 0 356.5 1787.7Z" fill="#ffa826"/>
<text x="345" y="1783.2" font-size="13.5" font-weight="700" text-anchor="end" fill="#111">中国</text>
<text transform="translate(387.9,1795.5) rotate(38.6)" font-size="12.5" font-weight="700" text-anchor="middle" dominant-baseline="central" fill="#f2930f">15</text>
<text x="56" y="1607.5" font-size="18" font-weight="500" fill="#111" style="word-spacing:2px">单位: 年</text>
<line x1="124" x2="666" y1="2502.2" y2="2502.2" stroke="#ececec" stroke-width="1.4"/>
<text x="121" y="2506.2" font-size="10.5" text-anchor="end" fill="#111">0</text>
<line x1="124" x2="666" y1="2447.3" y2="2447.3" stroke="#ececec" stroke-width="1.4"/>
<text x="121" y="2451.3" font-size="10.5" text-anchor="end" fill="#111">20</text>
<line x1="124" x2="666" y1="2392.4" y2="2392.4" stroke="#ececec" stroke-width="1.4"/>
<text x="121" y="2396.4" font-size="10.5" text-anchor="end" fill="#111">40</text>
<line x1="124" x2="666" y1="2337.5" y2="2337.5" stroke="#ececec" stroke-width="1.4"/>
<text x="121" y="2341.5" font-size="10.5" text-anchor="end" fill="#111">60</text>
<line x1="124" x2="666" y1="2282.6" y2="2282.6" stroke="#ececec" stroke-width="1.4"/>
<text x="121" y="2286.6" font-size="10.5" text-anchor="end" fill="#111">80</text>
<line x1="120" x2="666" y1="2518.3" y2="2518.3" stroke="#ececec" stroke-width="1.4"/>
<line x1="128" x2="666" y1="2589.0" y2="2589.0" stroke="#f0f0f0" stroke-width="1.4"/>
<text x="122" y="2593.0" font-size="10" text-anchor="end" fill="#111">5000</text>
<line x1="128" x2="666" y1="2659.7" y2="2659.7" stroke="#f0f0f0" stroke-width="1.4"/>
<text x="122" y="2663.7" font-size="10" text-anchor="end" fill="#111">10000</text>
<line x1="128" x2="666" y1="2730.4" y2="2730.4" stroke="#f0f0f0" stroke-width="1.4"/>
<text x="122" y="2734.4" font-size="10" text-anchor="end" fill="#111">15000</text>
<rect x="155" y="2282.6" width="51" height="219.6" rx="5.0" fill="#15c5d2"/>
<text x="180.5" y="2261.6" font-size="10.5" text-anchor="middle" fill="#111">80</text>
<text x="180.5" y="2514.5" font-size="10.5" text-anchor="middle" fill="#111">1949</text>
<rect x="153.5" y="2518.5" width="52.5" height="2" fill="#15c5d2"/>
<rect x="229" y="2397.6" width="51" height="104.6" rx="5.0" fill="#ffca28"/>
<text x="254.5" y="2376.6" font-size="10.5" text-anchor="middle" fill="#111">38.1</text>
<text x="254.5" y="2514.5" font-size="10.5" text-anchor="middle" fill="#111">1954</text>
<rect x="228" y="2519" width="51" height="5.9" rx="2.9" fill="#ffca28"/>
<text x="253.5" y="2544.5" font-size="12" text-anchor="middle" fill="#111">416</text>
<rect x="303" y="2439.6" width="51" height="62.6" rx="5.0" fill="#ff8528"/>
<text x="328.5" y="2418.6" font-size="10.5" text-anchor="middle" fill="#111">22.81</text>
<text x="328.5" y="2514.5" font-size="10.5" text-anchor="middle" fill="#111">1982</text>
<rect x="302" y="2519" width="51" height="8.7" rx="4.3" fill="#ff8528"/>
<text x="327.5" y="2553.5" font-size="12" text-anchor="middle" fill="#111">615</text>
<rect x="377" y="2458.6" width="51" height="43.6" rx="5.0" fill="#ff5a5a"/>
<text x="402.5" y="2437.6" font-size="10.5" text-anchor="middle" fill="#111">15.88</text>
<text x="402.5" y="2514.5" font-size="10.5" text-anchor="middle" fill="#111">1990</text>
<rect x="376" y="2519" width="51" height="20.1" rx="5.0" fill="#ff5a5a"/>
<text x="401.5" y="2563.8" font-size="12" text-anchor="middle" fill="#111">1422</text>
<rect x="451" y="2483.8" width="51" height="18.4" rx="5.0" fill="#ff5fb8"/>
<text x="476.5" y="2462.8" font-size="10.5" text-anchor="middle" fill="#111">6.72</text>
<text x="476.5" y="2514.5" font-size="10.5" text-anchor="middle" fill="#111">2000</text>
<rect x="450" y="2519" width="51" height="51.1" rx="5.0" fill="#ff5fb8"/>
<text x="475.5" y="2597.3" font-size="12" text-anchor="middle" fill="#111">3611</text>
<rect x="525" y="2491.0" width="51" height="11.2" rx="5.0" fill="#a446ff"/>
<text x="550.5" y="2470.0" font-size="10.5" text-anchor="middle" fill="#111">4.08</text>
<text x="550.5" y="2514.5" font-size="10.5" text-anchor="middle" fill="#111">2010</text>
<rect x="524" y="2519" width="51" height="126.3" rx="5.0" fill="#a446ff"/>
<text x="549.5" y="2665.8" font-size="12" text-anchor="middle" fill="#111">8930</text>
<rect x="599" y="2494.9" width="51" height="7.3" rx="3.7" fill="#1a1ad2"/>
<text x="624.5" y="2473.9" font-size="10.5" text-anchor="middle" fill="#111">2.67</text>
<text x="624.5" y="2514.5" font-size="10.5" text-anchor="middle" fill="#111">2020</text>
<rect x="598" y="2519" width="51" height="218.7" rx="5.0" fill="#1a1ad2"/>
<text x="623.5" y="2754.9" font-size="12" text-anchor="middle" fill="#111">15467</text>
<text x="72.5" y="2236.5" font-size="9" font-weight="500" fill="#111">单位: %</text>
<text x="89.5" y="2762" font-size="11.35" font-weight="700" fill="#111">每十万人中具有大学文化程度的人数</text>
</svg>
<div class="hr" style="left:56px;width:634px;top:870px"></div>
<div class="ft" style="right:75px;top:886.2px;font-size:17px;line-height:25.5px">制作：中国教育在线</div>
<div class="hr" style="left:58px;width:622px;top:1508.5px"></div>
<div class="ft" style="right:73px;top:1520.8px;font-size:17px;line-height:25.5px">制作：中国教育在线</div>
<div class="hr" style="left:58px;width:640px;top:2030.5px"></div>
<div class="ft" style="right:65px;top:2044.8px;font-size:17px;line-height:25.5px">制作：中国教育在线</div>
<div class="ft" style="right:71.5px;top:2777.6px;font-size:17px;line-height:25.5px">制作：中国教育在线</div>
</body></html>
